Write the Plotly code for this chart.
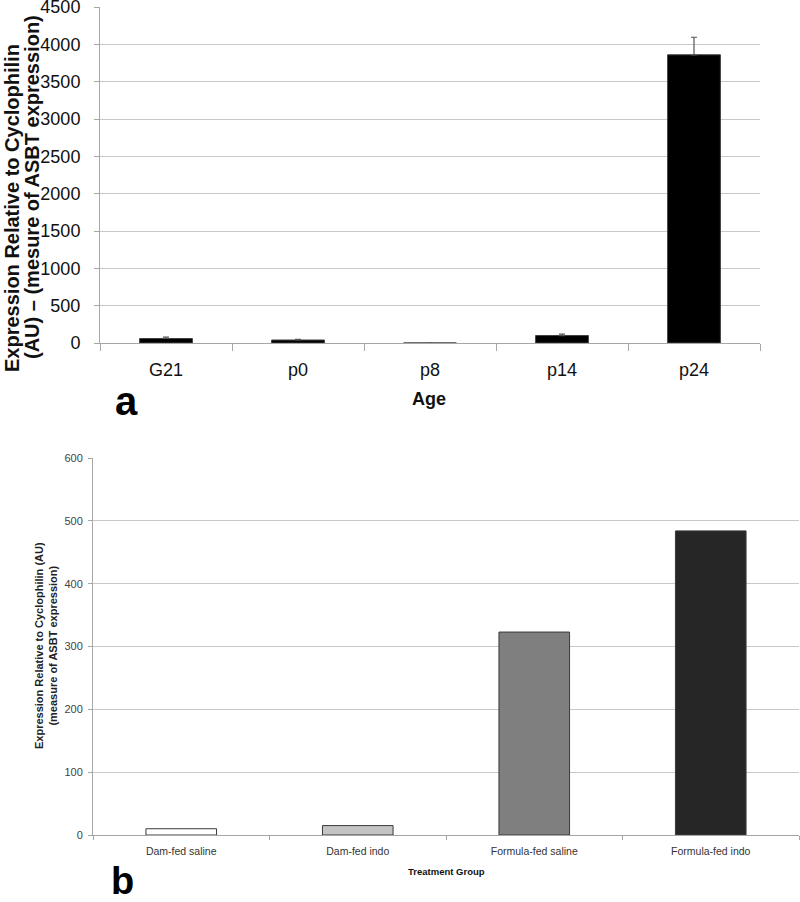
import plotly.graph_objects as go

# ---- Panel a data ----
ages = ["G21", "p0", "p8", "p14", "p24"]
age_values = [60, 40, 0, 100, 3860]
age_errors = [20, 10, 0, 20, 235]

# ---- Panel b data ----
groups = ["Dam-fed saline", "Dam-fed indo", "Formula-fed saline", "Formula-fed indo"]
group_values = [10, 15, 323, 484]
group_colors = ["#ffffff", "#c4c4c4", "#7f7f7f", "#262626"]

W, H = 800, 902
FONT = "Liberation Sans, Arial, sans-serif"

fig = go.Figure()

fig.add_trace(go.Bar(
    x=ages, y=age_values, xaxis="x", yaxis="y",
    marker=dict(color="#000000", line=dict(color="#404040", width=1)),
    width=0.4,
    error_y=dict(type="data", array=age_errors, arrayminus=[0] * len(age_errors),
                 symmetric=False, visible=True,
                 color="#555555", thickness=1.2, width=3),
    showlegend=False,
))

fig.add_trace(go.Bar(
    x=groups, y=group_values, xaxis="x2", yaxis="y2",
    marker=dict(color=group_colors, line=dict(color="#3a3a3a", width=1)),
    width=0.4,
    showlegend=False,
))

def px_x(p):
    return p / W

def px_y(p):
    return 1 - p / H

grid = "#c8c8c8"
axcol = "#a6a6a6"

fig.update_layout(
    width=W, height=H,
    margin=dict(l=0, r=0, t=0, b=0, pad=0, autoexpand=False),
    paper_bgcolor="white", plot_bgcolor="white",
    font=dict(family=FONT, color="#111111"),
    bargap=0.6,
    xaxis=dict(
        domain=[px_x(100), px_x(760)], anchor="y", automargin=False,
        type="category", showline=True, linecolor=axcol, linewidth=1,
        ticks="outside", tickson="boundaries", ticklen=7, tickcolor=axcol,
        ticklabelstandoff=10, ticklabeloverflow="allow",
        tickfont=dict(size=18, family=FONT, color="#111111"),
        showgrid=False, zeroline=False,
    ),
    yaxis=dict(
        domain=[px_y(343), px_y(7)], anchor="x", automargin=False,
        range=[0, 4500], dtick=500, tick0=0,
        showline=True, linecolor=axcol, linewidth=1,
        ticks="outside", ticklen=5, tickcolor=axcol,
        ticklabelstandoff=10, ticklabeloverflow="allow",
        tickfont=dict(size=18, family=FONT, color="#111111"),
        showgrid=True, gridcolor=grid, gridwidth=1, zeroline=False,
    ),
    xaxis2=dict(
        domain=[px_x(93), px_x(799)], anchor="y2", automargin=False,
        type="category", showline=True, linecolor=axcol, linewidth=1,
        ticks="outside", tickson="boundaries", ticklen=4, tickcolor=axcol,
        ticklabelstandoff=6, ticklabeloverflow="allow",
        tickfont=dict(size=10.5, family=FONT, color="#333333"),
        showgrid=False, zeroline=False,
    ),
    yaxis2=dict(
        domain=[px_y(835), px_y(458)], anchor="x2", automargin=False,
        range=[0, 600], dtick=100, tick0=0,
        showline=True, linecolor=axcol, linewidth=1,
        ticks="outside", ticklen=4, tickcolor=axcol,
        ticklabelstandoff=3, ticklabeloverflow="allow",
        tickfont=dict(size=11, family=FONT, color="#444444"),
        showgrid=True, gridcolor=grid, gridwidth=1, zeroline=False,
    ),
)

annotations = [
    dict(text="<b>Expression Relative to Cyclophilin</b>",
         x=px_x(12), y=px_y(208), xref="paper", yref="paper",
         xanchor="center", yanchor="middle", textangle=-90, showarrow=False,
         font=dict(size=20, family=FONT, color="#111111")),
    dict(text="<b>(AU) – (mesure of ASBT expression)</b>",
         x=px_x(32), y=px_y(187), xref="paper", yref="paper",
         xanchor="center", yanchor="middle", textangle=-90, showarrow=False,
         font=dict(size=20, family=FONT, color="#111111")),
    dict(text="<b>Age</b>", x=px_x(429), y=px_y(399), xref="paper", yref="paper",
         xanchor="center", yanchor="middle", showarrow=False,
         font=dict(size=18, family=FONT, color="#111111")),
    dict(text="<b>a</b>", x=px_x(126), y=px_y(401), xref="paper", yref="paper",
         xanchor="center", yanchor="middle", showarrow=False,
         font=dict(size=40, family=FONT, color="#000000")),
    dict(text="<b>Expression Relative to Cyclophilin (AU)<br>(measure of ASBT expression)</b>",
         x=px_x(46), y=px_y(646), xref="paper", yref="paper",
         xanchor="center", yanchor="middle", textangle=-90, showarrow=False,
         font=dict(size=11, family=FONT, color="#222222")),
    dict(text="<b>Treatment Group</b>", x=px_x(446), y=px_y(871), xref="paper", yref="paper",
         xanchor="center", yanchor="middle", showarrow=False,
         font=dict(size=9.5, family=FONT, color="#111111")),
    dict(text="<b>b</b>", x=px_x(122), y=px_y(881), xref="paper", yref="paper",
         xanchor="center", yanchor="middle", showarrow=False,
         font=dict(size=38, family=FONT, color="#000000")),
]
fig.update_layout(annotations=annotations)

fig.write_html("out.html", config={"displayModeBar": False},
               post_script="document.body.style.margin='0';")
